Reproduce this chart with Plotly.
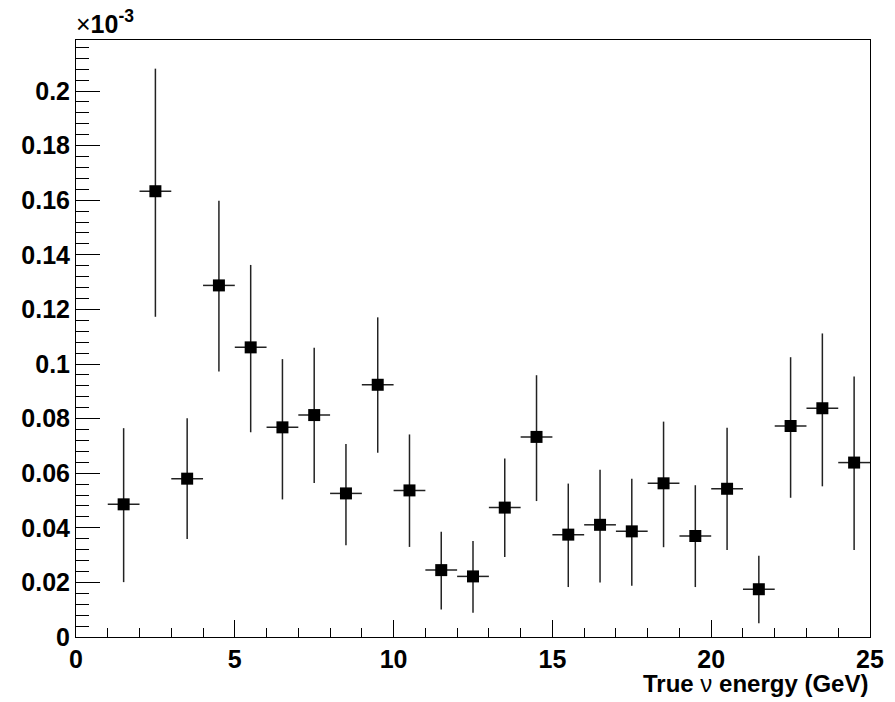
import plotly.graph_objects as go

# Bin centres (GeV)
energy = [1.5, 2.5, 3.5, 4.5, 5.5, 6.5, 7.5, 8.5, 9.5, 10.5, 11.5, 12.5,
          13.5, 14.5, 15.5, 16.5, 17.5, 18.5, 19.5, 20.5, 21.5, 22.5, 23.5, 24.5]
# Values in units of 1e-3
value = [0.0486, 0.1633, 0.0580, 0.1288, 0.1061, 0.0768, 0.0813, 0.0526,
         0.0924, 0.0537, 0.0245, 0.0222, 0.0474, 0.0733, 0.0375, 0.0411,
         0.0387, 0.0563, 0.0370, 0.0543, 0.0175, 0.0773, 0.0838, 0.0639]
err_hi = [0.0279, 0.0449, 0.0221, 0.0310, 0.0302, 0.0250, 0.0247, 0.0181,
          0.0247, 0.0205, 0.0141, 0.0130, 0.0180, 0.0226, 0.0187, 0.0202,
          0.0193, 0.0226, 0.0186, 0.0224, 0.0123, 0.0252, 0.0274, 0.0315]
err_lo = [0.0285, 0.0460, 0.0221, 0.0315, 0.0311, 0.0264, 0.0249, 0.0190,
          0.0249, 0.0207, 0.0144, 0.0133, 0.0181, 0.0235, 0.0192, 0.0211,
          0.0199, 0.0234, 0.0187, 0.0224, 0.0125, 0.0263, 0.0286, 0.0320]
half_bin = [0.5] * len(energy)

FONT = "Liberation Sans"

fig = go.Figure()
fig.add_trace(go.Scatter(
    x=energy, y=value, mode="markers",
    marker=dict(symbol="square", size=12, color="black", line=dict(width=0)),
    error_y=dict(type="data", symmetric=False, array=err_hi, arrayminus=err_lo,
                 width=0, thickness=1.5, color="#222222"),
    error_x=dict(type="data", array=half_bin, width=0, thickness=1.5,
                 color="#222222"),
    showlegend=False,
))

fig.update_layout(
    width=895, height=702,
    margin=dict(l=76, r=25, t=40, b=65),
    paper_bgcolor="white", plot_bgcolor="white",
    font=dict(family=FONT, color="black"),
    xaxis=dict(
        range=[0, 25], tickmode="linear", tick0=0, dtick=5,
        ticks="inside", ticklen=17, tickwidth=1, tickcolor="black",
        minor=dict(ticks="inside", ticklen=9, tickwidth=1, tickcolor="black",
                   tickmode="linear", tick0=0, dtick=1),
        showline=True, linecolor="black", linewidth=1, mirror=True,
        showgrid=False, zeroline=False,
        tickfont=dict(family=FONT, size=25, color="black", weight="bold"),
    ),
    yaxis=dict(
        range=[0, 0.2187], tickmode="linear", tick0=0, dtick=0.02,
        ticks="inside", ticklen=24, tickwidth=1, tickcolor="black",
        minor=dict(ticks="inside", ticklen=13, tickwidth=1, tickcolor="black",
                   tickmode="linear", tick0=0, dtick=0.004),
        showline=True, linecolor="black", linewidth=1, mirror=True,
        showgrid=False, zeroline=False,
        tickfont=dict(family=FONT, size=25, color="black", weight="bold"),
    ),
    annotations=[
        dict(text="<b>True</b> ν <b>energy (GeV)</b>", xref="paper", yref="paper",
             x=1.0, y=-0.052, xanchor="right", yanchor="top", showarrow=False,
             font=dict(family=FONT, size=24, color="black")),
        dict(text="×<b>10<sup>-3</sup></b>", xref="paper", yref="paper",
             x=-0.003, y=1.0, xanchor="left", yanchor="bottom", showarrow=False,
             font=dict(family=FONT, size=25, color="black")),
    ],
)

fig.write_html("out.html")
